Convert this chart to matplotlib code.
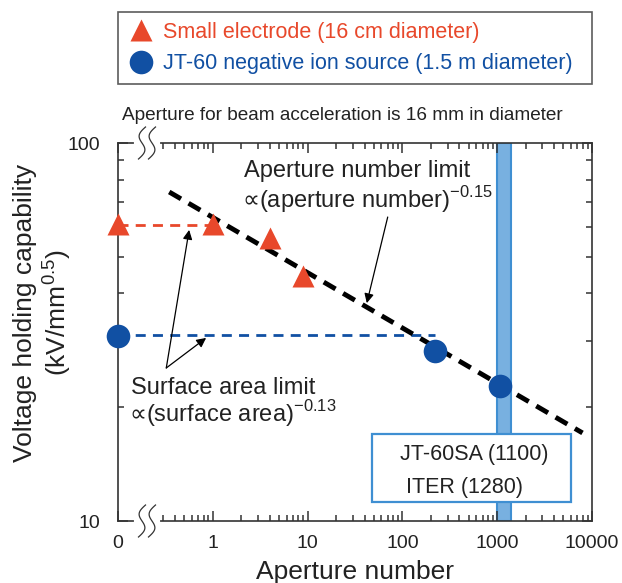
import numpy as np
import matplotlib
matplotlib.use('Agg')
import matplotlib.pyplot as plt
import matplotlib.transforms as mtransforms
from matplotlib.patches import Rectangle

plt.rcParams['font.family'] = ['Liberation Sans', 'DejaVu Sans']
plt.rcParams['text.color'] = '#222222'

# data (x = 0.1 stands for the "0" position)
small_x = [0.1, 1, 4.06, 9.0]
small_y = [61, 61, 56.2, 44.5]
jt60_x = [0.1, 219, 1083]
jt60_y = [30.9, 28.2, 22.8]

small_surf_x = [0.1, 1]
small_surf_y = [60.5, 60.5]
jt60_surf_x = [0.1, 219]
jt60_surf_y = [31, 31]

aperture_line_x = [0.347, 7940]
aperture_line_y = [74.2, 17.1]

band_x = [1000, 1390]

xticks = [0.1, 1, 10, 100, 1000, 10000]
xticklabels = ['0', '1', '10', '100', '1000', '10000']
yticks = [10, 100]

red = '#E8482B'
blue = '#1150A3'
band_face = '#78B0E0'
band_edge = '#3F8FD2'
axcol = '#333333'

fig = plt.figure(figsize=(6.22, 5.83), dpi=100)
ax = fig.add_axes([118/622, 1-521/583, 474/622, 378/583])
ax.set_xscale('log')
ax.set_yscale('log')
ax.set_xlim(0.1, 10000)
ax.set_ylim(10, 100)

# ITER / JT-60SA band
ax.axvspan(band_x[0], band_x[1], facecolor=band_face, edgecolor=band_edge, lw=1.5, zorder=1)

# limit lines
ax.plot(small_surf_x, small_surf_y, color=red, lw=2, linestyle=(0, (3.6, 2.6)), zorder=2)
ax.plot(jt60_surf_x, jt60_surf_y, color=blue, lw=2, linestyle=(0, (3.6, 2.6)), zorder=2)
ax.plot(aperture_line_x, aperture_line_y, color='black', lw=3.5,
        linestyle=(0, (2.8, 1.8)), zorder=2)

# data points
h1, = ax.plot(small_x, small_y, '^', color=red, ms=16, mec='none', zorder=4,
              label='Small electrode (16 cm diameter)', clip_on=False)
h2, = ax.plot(jt60_x, jt60_y, 'o', color=blue, ms=17, mec='none', zorder=4,
              label='JT-60 negative ion source (1.5 m diameter)', clip_on=False)

# ticks
ax.set_xticks(xticks)
ax.set_xticklabels(xticklabels)
minor_x = [m * d for d in [1, 10, 100, 1000] for m in range(2, 10)] + [m * 0.1 for m in range(3, 10)]
ax.set_xticks(minor_x, minor=True)
ax.set_xticklabels([], minor=True)
ax.set_yticks(yticks)
ax.set_yticklabels(['10', '100'])
ax.set_yticks([m * 10 for m in range(2, 10)], minor=True)
ax.set_yticklabels([], minor=True)
ax.tick_params(which='both', direction='in', top=True, right=True, colors=axcol,
               labelcolor='#222222', width=1.1)
ax.tick_params(which='major', length=7, labelsize=14)
ax.tick_params(which='minor', length=4)
ax.tick_params(axis='x', which='major', pad=10)
ax.tick_params(axis='y', which='major', pad=13)
for s in ax.spines.values():
    s.set_color(axcol)
    s.set_linewidth(1.2)

# axis breaks on top and bottom spines
for yb in [0, 1]:
    ax.plot([(136-118)/474, (158-118)/474], [yb, yb], color='white', lw=3,
            transform=ax.transAxes, clip_on=False, zorder=5)
    t = np.linspace(0, 1, 40)
    for off in [-5, 5]:
        px = off - 7 * (t - 0.5) - 4.5 * np.sin(2 * np.pi * t)
        py = 16 * (1 - 2 * t)
        trans = fig.dpi_scale_trans + mtransforms.ScaledTranslation(
            (147-118)/474, yb, ax.transAxes)
        ax.plot(px / 100, py / 100, color=axcol, lw=0.9, transform=trans,
                clip_on=False, zorder=6)

# annotations
prop = '$\\!\\!\\propto\\!$'
ax.text(2.14, 81.3, 'Aperture number limit', fontsize=17, va='baseline')
ax.text(2.14, 67.3, prop + '(aperture number)$^{\\mathregular{-0.15}}$', fontsize=17, va='baseline')
ax.annotate('', xy=(42.1, 37.7), xytext=(70, 63.7),
            arrowprops=dict(arrowstyle='-|>', color='black', lw=0.9,
                            mutation_scale=14, shrinkA=0, shrinkB=0))

ax.text(0.138, 21.7, 'Surface area limit', fontsize=17, va='baseline')
ax.text(0.138, 18.3, prop + '(surface area)$^{\\mathregular{-0.13}}$', fontsize=17, va='baseline')
for hx, hy in [(0.563, 58.9), (0.85, 30.5)]:
    ax.annotate('', xy=(hx, hy), xytext=(0.323, 25.4),
                arrowprops=dict(arrowstyle='-|>', color='black', lw=0.9,
                                mutation_scale=14, shrinkA=0, shrinkB=0))

# JT-60SA / ITER box
ax.add_patch(Rectangle(((372-118)/474, (521-502)/378), (571-372)/474, (502-434)/378,
                       transform=ax.transAxes, facecolor='white', edgecolor=band_edge,
                       lw=1.6, zorder=3))
ax.text((474.5-118)/474, (521-460)/378, 'JT-60SA (1100)', fontsize=15.5,
        ha='center', va='baseline', transform=ax.transAxes, zorder=4)
ax.text((465-118)/474, (521-493)/378, 'ITER (1280)', fontsize=15.5,
        ha='center', va='baseline', transform=ax.transAxes, zorder=4)

# axis labels
fig.text(354.5/622, 1-579/583, 'Aperture number', fontsize=19, ha='center', va='baseline')
fig.text(25/622, 1-313/583, 'Voltage holding capability', fontsize=19,
         rotation=90, ha='center', va='center')
fig.text(57/622, 1-313/583, '(kV/mm$^{\\mathregular{0.5}}$)', fontsize=19,
         rotation=90, ha='center', va='center')

fig.text(122/622, 1-120/583, 'Aperture for beam acceleration is 16 mm in diameter',
         fontsize=13.7, va='baseline')

leg = ax.legend(handles=[h1, h2], loc='upper left', mode='expand',
                bbox_to_anchor=(118/622, 1-87/583, 474/622, 75/583),
                bbox_transform=fig.transFigure, borderaxespad=0, fontsize=15.5,
                handlelength=1.2, handletextpad=0.45, labelspacing=0.5,
                borderpad=0.45, frameon=True, fancybox=False)
leg.get_frame().set_edgecolor(axcol)
leg.get_frame().set_linewidth(1.2)
leg.texts[0].set_color(red)
leg.texts[1].set_color(blue)

plt.savefig('out.png', dpi=100)
